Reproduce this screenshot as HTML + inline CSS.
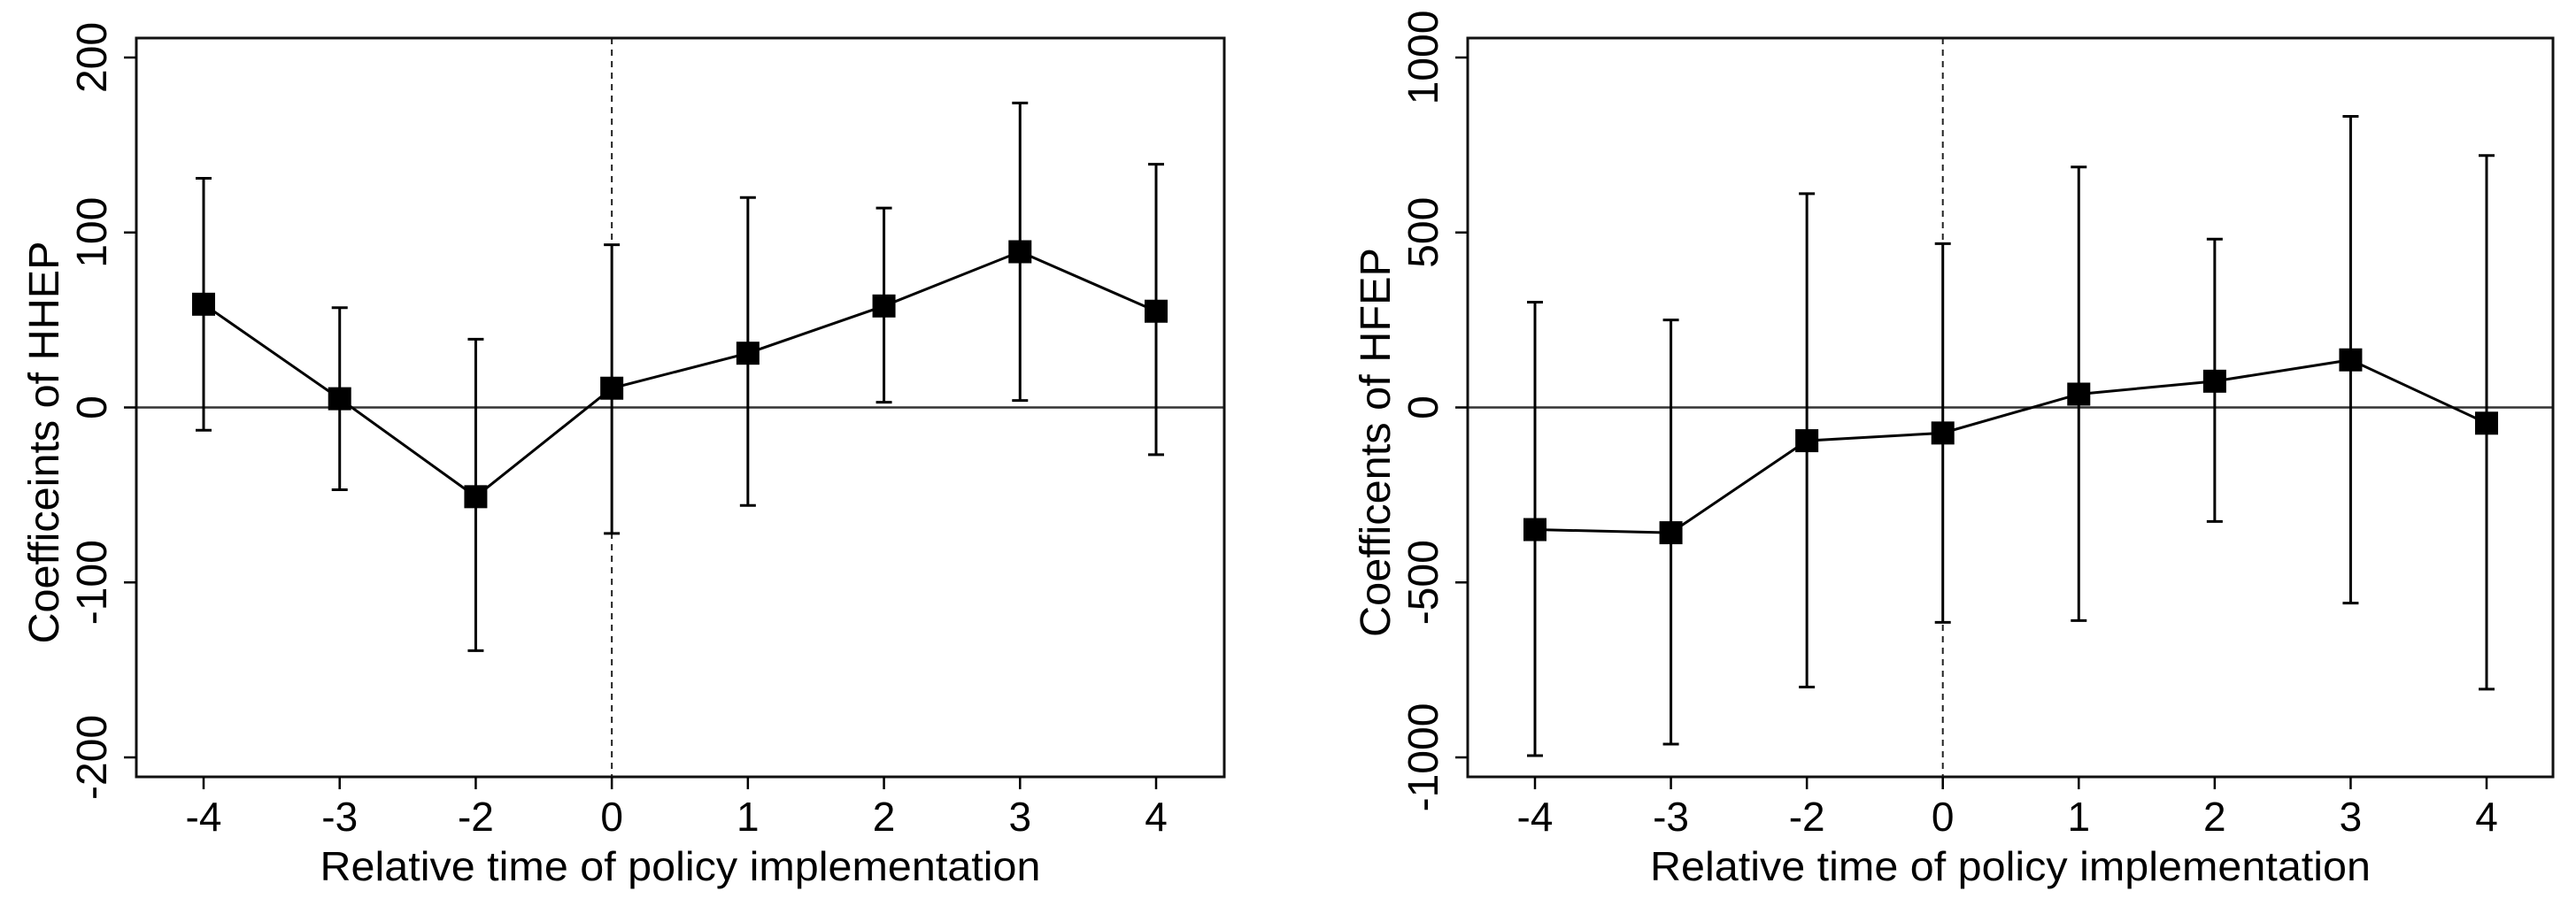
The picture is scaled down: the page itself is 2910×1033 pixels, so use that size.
<!DOCTYPE html>
<html><head><meta charset="utf-8"><style>
html,body{margin:0;padding:0;background:#fff;}
svg{display:block;font-family:"Liberation Sans",Arial,sans-serif;}
</style></head><body>
<svg id="c" width="2910" height="1033" viewBox="0 0 2910 1033"></svg>
<script>
const categories = ["-4","-3","-2","0","1","2","3","4"];
const hhepCoef = [59, 5, -51, 11, 31, 58, 89, 55];
const hhepHi = [131, 57, 39, 93, 120, 114, 174, 139];
const hhepLo = [-13, -47, -139, -72, -56, 3, 4, -27];
const hhepTicks = [-200, -100, 0, 100, 200];
const hfepCoef = [-349, -358, -95, -73, 38, 75, 136, -45];
const hfepHi = [301, 250, 611, 468, 687, 481, 832, 720];
const hfepLo = [-995, -962, -799, -614, -609, -326, -559, -805];
const hfepTicks = [-1000, -500, 0, 500, 1000];
const eventCategory = "0";

const NS = "http://www.w3.org/2000/svg";
const svg = document.getElementById('c');
function mk(tag, attrs, parent){
  const e = document.createElementNS(NS, tag);
  for (const k in attrs) e.setAttribute(k, attrs[k]);
  (parent||svg).appendChild(e);
  return e;
}

function panel(cfg){
  const g = mk('g', {});
  
  
  const L = cfg.left, R = cfg.right, T = 43, B = 878;
  const yMin = cfg.ticks[0], yMax = cfg.ticks[cfg.ticks.length-1];
  const y0px = 856, y1px = 65;
  const ys = v => y0px + (v - yMin) * (y1px - y0px) / (yMax - yMin);
  const xs = i => cfg.x0 + i * (cfg.x1 - cfg.x0) / (categories.length - 1);

  // zero line
  const zl = mk('line', {x1:L, x2:R, y1:ys(0), y2:ys(0), stroke:'#333', 'stroke-width':2.5}, g);
  
  
  // event dashed line
  const ei = categories.indexOf(eventCategory);
  const dl = mk('line', {x1:xs(ei), x2:xs(ei), y1:T, y2:B, stroke:'#222', 'stroke-width':2, 'stroke-dasharray':'7,6'}, g);
  
  

  // error bars
  categories.forEach((c,i)=>{
    const eb = mk('g', {stroke:'#000', 'stroke-width':3}, g);
    
    
    const x = xs(i);
    mk('line', {x1:x, x2:x, y1:ys(cfg.hi[i]), y2:ys(cfg.lo[i])}, eb);
    mk('line', {x1:x-9, x2:x+9, y1:ys(cfg.hi[i]), y2:ys(cfg.hi[i])}, eb);
    mk('line', {x1:x-9, x2:x+9, y1:ys(cfg.lo[i]), y2:ys(cfg.lo[i])}, eb);
  });
  // connecting line
  const pts = categories.map((c,i)=>xs(i)+','+ys(cfg.coef[i])).join(' ');
  const pl = mk('polyline', {points:pts, fill:'none', stroke:'#000', 'stroke-width':3}, g);
  
  
  // markers
  categories.forEach((c,i)=>{
    const s = 26;
    const m = mk('rect', {x:xs(i)-s/2, y:ys(cfg.coef[i])-s/2, width:s, height:s, fill:'#000'}, g);
    
    
  });
  // frame
  const fr = mk('rect', {x:L, y:T, width:R-L, height:B-T, fill:'none', stroke:'#111', 'stroke-width':3}, g);
  
  

  // y ticks
  cfg.ticks.forEach(t=>{
    const y = ys(t);
    const tk = mk('line', {x1:L-14, x2:L, y1:y, y2:y, stroke:'#000', 'stroke-width':2.5}, g);
    
    
    const tx = mk('text', {x:0, y:0, 'font-size':48, 'text-anchor':'middle', fill:'#000',
      transform:'translate('+(L-34)+','+y+') rotate(-90)'}, g);
    tx.textContent = String(t);
    
    
  });
  // x ticks
  categories.forEach((c,i)=>{
    const x = xs(i);
    const tk = mk('line', {x1:x, x2:x, y1:B, y2:B+14, stroke:'#000', 'stroke-width':2.5}, g);
    
    
    const tx = mk('text', {x:x, y:939, 'font-size':46, 'text-anchor':'middle', fill:'#000'}, g);
    tx.textContent = c;
    
    
  });
  // titles
  const xt = mk('text', {x:(L+R)/2, y:995, 'font-size':46, 'text-anchor':'middle', fill:'#000', textLength:814, lengthAdjust:'spacingAndGlyphs'}, g);
  xt.textContent = 'Relative time of policy implementation';
  
  
  const yt = mk('text', {x:0, y:0, 'font-size':48, 'text-anchor':'middle', fill:'#000',
    transform:'translate('+(L-88)+',500) rotate(-90)', textLength:cfg.titleLen, lengthAdjust:'spacingAndGlyphs'}, g);
  yt.textContent = cfg.ytitle;
  
  
}

panel({name:'hhep-panel', left:154, right:1383, x0:230, x1:1306,
  coef:hhepCoef, hi:hhepHi, lo:hhepLo, ticks:hhepTicks, ytitle:'Coefficeints of HHEP', titleLen:455});
panel({name:'hfep-panel', left:1658, right:2884, x0:1734, x1:2809,
  coef:hfepCoef, hi:hfepHi, lo:hfepLo, ticks:hfepTicks, ytitle:'Coefficents of HFEP', titleLen:440});
</script>
</body></html>
